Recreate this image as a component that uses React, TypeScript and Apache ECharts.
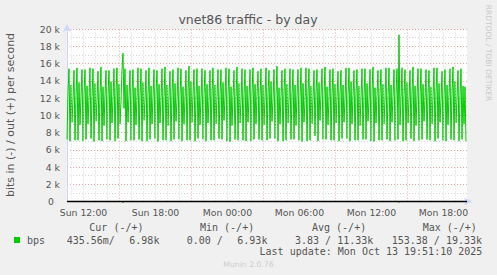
import React, { useEffect, useRef } from 'react';
import * as echarts from 'echarts';

// ---- texts ----
const chartTitle = 'vnet86 traffic - by day';
const yAxisTitle = 'bits in (-) / out (+) per second';
const sideText = 'RRDTOOL / TOBI OETIKER';
const footerText = 'Munin 2.0.76';
const lastUpdate = 'Last update: Mon Oct 13 19:51:10 2025';
const seriesName = 'bps';
const statHeaders = ['Cur (-/+)', 'Min (-/+)', 'Avg (-/+)', 'Max (-/+)'];
const statCells = ['435.56m/', '6.98k', '0.00 /', '6.93k', '3.83 / 11.33k', '153.38 / 19.33k'];

// ---- time axis (minutes since Sun 00:00) ----
const startMinute = 637.5; // Sun 10:37:30
const stepMinutes = 5;
const sampleCount = 400;
const xLabelValues = [720, 1080, 1440, 1800, 2160, 2520];
const xLabelTexts = ['Sun 12:00', 'Sun 18:00', 'Mon 00:00', 'Mon 06:00', 'Mon 12:00', 'Mon 18:00'];
const majorGridValues = [900, 1260, 1620, 1980, 2340];
const minorGridFirst = 660;
const minorGridStep = 60;

// ---- y axis (k bits/s) ----
const yMin = 0;
const yMax = 20;
const yStep = 1;

// ---- out (+) traffic, k bits per second, one value per 5 minutes ----
const outValues = [
  7.2, 12.6, 15.4, 7.0, 13.5, 9.2, 11.9, 15.2,
  7.1, 12.3, 15.5, 7.1, 13.8, 8.9, 12.2, 15.3,
  7.0, 12.7, 15.3, 7.2, 13.4, 9.0, 12.1, 15.5,
  7.3, 12.2, 15.4, 6.95, 13.7, 9.3, 11.8, 15.1,
  7.1, 12.5, 15.6, 7.0, 13.3, 8.8, 12.4, 15.2,
  7.2, 12.4, 15.2, 7.1, 13.9, 9.1, 12.0, 15.4,
  7.0, 12.8, 15.5, 7.3, 13.6, 9.0, 11.7, 15.3,
  17.2, 10.8, 15.4, 7.0, 13.5, 9.2, 12.3, 15.2,
  7.1, 12.6, 15.3, 7.1, 13.2, 8.9, 12.1, 15.5,
  7.2, 12.3, 15.4, 7.0, 13.8, 9.4, 11.9, 15.2,
  7.0, 12.5, 15.5, 7.2, 13.4, 9.0, 12.2, 15.3,
  7.3, 12.7, 15.2, 6.95, 13.6, 9.1, 12.0, 15.4,
  7.1, 12.2, 15.6, 7.1, 13.5, 8.8, 12.3, 15.1,
  7.0, 12.6, 15.3, 7.2, 13.7, 9.3, 11.8, 15.5,
  7.2, 12.4, 15.4, 7.0, 13.3, 9.0, 12.1, 15.2,
  7.1, 12.8, 15.7, 7.1, 13.9, 9.2, 12.4, 15.3,
  7.0, 12.3, 15.4, 7.3, 13.4, 8.9, 12.0, 15.4,
  7.2, 12.5, 15.2, 7.0, 13.6, 9.1, 11.9, 15.2,
  7.1, 12.7, 15.5, 7.1, 13.5, 9.0, 12.2, 15.3,
  7.3, 12.4, 15.3, 7.2, 13.8, 9.4, 12.1, 15.5,
  7.0, 12.6, 15.4, 6.93, 13.3, 8.8, 12.3, 15.2,
  7.2, 12.2, 15.6, 7.1, 13.7, 9.1, 11.8, 15.4,
  7.1, 12.5, 15.3, 7.0, 13.4, 9.2, 12.0, 15.3,
  7.0, 12.8, 15.5, 7.2, 13.6, 9.0, 12.4, 15.1,
  7.2, 12.3, 15.4, 7.1, 13.5, 8.9, 12.1, 15.5,
  7.1, 12.6, 15.2, 7.3, 13.9, 9.3, 11.9, 15.3,
  7.3, 12.4, 15.7, 7.0, 13.2, 9.0, 12.2, 15.2,
  7.0, 12.7, 15.4, 7.1, 13.6, 9.1, 12.0, 15.4,
  7.2, 12.5, 15.3, 7.2, 13.5, 8.8, 12.3, 15.3,
  7.1, 12.2, 15.5, 6.95, 13.7, 9.2, 11.8, 15.5,
  7.0, 12.6, 15.4, 7.1, 13.4, 9.0, 12.1, 15.2,
  7.6, 12.8, 15.3, 7.0, 13.8, 9.4, 12.4, 15.4,
  7.2, 12.3, 15.6, 7.2, 13.3, 8.9, 12.0, 15.3,
  7.1, 12.5, 15.4, 7.1, 13.6, 9.1, 12.2, 15.1,
  7.0, 12.7, 15.2, 7.3, 13.5, 9.2, 11.9, 15.5,
  7.3, 12.4, 15.5, 7.0, 13.9, 9.0, 12.3, 15.2,
  7.1, 12.6, 15.3, 7.1, 13.4, 8.8, 12.1, 15.4,
  7.2, 12.2, 15.4, 7.2, 13.7, 9.3, 11.8, 15.3,
  7.0, 12.8, 15.6, 6.95, 13.2, 9.1, 12.4, 15.2,
  7.1, 12.5, 15.3, 7.1, 13.6, 9.0, 12.0, 15.5,
  7.2, 12.3, 15.5, 7.0, 13.5, 9.2, 12.2, 15.3,
  7.1, 12.6, 15.4, 7.2, 19.33, 8.9, 12.1, 15.5,
  7.0, 12.4, 15.3, 7.1, 13.8, 9.1, 11.9, 15.2,
  7.3, 12.7, 15.6, 7.0, 13.4, 8.8, 12.3, 15.4,
  7.1, 12.2, 15.4, 7.2, 13.6, 9.3, 12.0, 15.3,
  7.2, 12.5, 15.2, 7.1, 13.3, 9.0, 12.2, 15.5,
  7.0, 12.8, 15.5, 7.3, 13.7, 9.2, 11.8, 15.1,
  7.1, 12.4, 15.3, 7.0, 13.5, 8.9, 12.4, 15.4,
  7.2, 12.6, 15.6, 7.1, 13.9, 9.1, 12.1, 15.2,
  7.0, 12.3, 15.4, 7.2, 13.4, 9.0, 13.3, 6.98,
];

// ---- in (-) traffic: essentially zero, with two small bursts (sample index, k bits/s) ----
const inBursts: [number, number][] = [
  [56, -0.153],
  [332, -0.12],
];

const GREEN = '#00cc00';
const TEXT = '#555555';
const AXIS = '#cfd6f8';
const MAJOR = '#e8a8a8';
const MINOR = '#d6d6d6';

export default function App() {
  const ref = useRef<HTMLDivElement>(null);

  useEffect(() => {
    if (!ref.current) return;
    const chart = echarts.init(ref.current, undefined, { renderer: 'svg' });

    const outData = outValues.map((v, i) => [startMinute + i * stepMinutes, v]);
    const inMap = new Map(inBursts);
    const inData = outValues.map((_, i) => [startMinute + i * stepMinutes, inMap.get(i) ?? 0]);
    const endMinute = startMinute + sampleCount * stepMinutes;

    const minorGrid: number[] = [];
    for (let m = minorGridFirst; m < endMinute; m += minorGridStep) minorGrid.push(m);
    const majorSet = new Set(majorGridValues);

    const gridLines = minorGrid.map((m) => ({
      xAxis: m,
      lineStyle: { color: majorSet.has(m) ? MAJOR : MINOR, type: [1, 2], width: 1 },
    }));

    const mono = "'DejaVu Sans Mono', monospace";
    const sans = "'DejaVu Sans', sans-serif";
    const headerX = [89.3, 200, 312, 422.7];
    const cellX = [66.7, 129.3, 186.7, 237.3, 295, 391.7];

    const graphic: any[] = [
      {
        type: 'text', x: 248, y: 19,
        style: { text: chartTitle, fill: TEXT, font: `12.5px ${sans}`, align: 'center', verticalAlign: 'middle' },
      },
      {
        type: 'text', x: 10.5, y: 115, rotation: Math.PI / 2,
        style: { text: yAxisTitle, fill: TEXT, font: `11px ${sans}`, align: 'center', verticalAlign: 'middle' },
      },
      {
        type: 'text', x: 488, y: 53, rotation: -Math.PI / 2,
        style: { text: sideText, fill: '#c8c8c8', font: `7.5px ${sans}`, align: 'center', verticalAlign: 'middle' },
      },
      ...statHeaders.map((t, i) => ({
        type: 'text', x: headerX[i], y: 227.7,
        style: { text: t, fill: TEXT, font: `10px ${mono}`, align: 'left', verticalAlign: 'middle' },
      })),
      { type: 'rect', shape: { x: 14, y: 237, width: 6, height: 6 }, style: { fill: GREEN } },
      {
        type: 'text', x: 27, y: 240,
        style: { text: seriesName, fill: TEXT, font: `10px ${mono}`, align: 'left', verticalAlign: 'middle' },
      },
      ...statCells.map((t, i) => ({
        type: 'text', x: cellX[i], y: 240,
        style: { text: t, fill: TEXT, font: `10px ${mono}`, align: 'left', verticalAlign: 'middle' },
      })),
      {
        type: 'text', x: 482.3, y: 251,
        style: { text: lastUpdate, fill: TEXT, font: `10px ${mono}`, align: 'right', verticalAlign: 'middle' },
      },
      {
        type: 'text', x: 223.3, y: 264.3,
        style: { text: footerText, fill: '#cccccc', font: `7.7px ${sans}`, align: 'left', verticalAlign: 'middle' },
      },
    ];

    chart.setOption({
      animation: false,
      backgroundColor: '#f0f0f0',
      grid: {
        left: 67, top: 29, width: 400, height: 172.5,
        show: true, backgroundColor: '#ffffff', borderWidth: 0,
      },
      xAxis: {
        type: 'value',
        min: startMinute,
        max: endMinute,
        axisLine: {
          show: true, onZero: false,
          lineStyle: { color: AXIS, width: 1 },
          symbol: ['none', 'arrow'], symbolSize: [6, 8], symbolOffset: [0, 5],
        },
        axisTick: { show: false },
        axisLabel: {
          customValues: xLabelValues,
          formatter: (v: number) => xLabelTexts[xLabelValues.indexOf(v)] ?? '',
          color: TEXT, fontSize: 9.3, fontFamily: sans, margin: 6,
        },
        splitLine: { show: false },
      },
      yAxis: {
        type: 'value',
        min: yMin, max: yMax, interval: yStep,
        axisLine: {
          show: true,
          lineStyle: { color: AXIS, width: 1 },
          symbol: ['none', 'arrow'], symbolSize: [6, 8], symbolOffset: [0, 5],
        },
        axisTick: { show: false },
        axisLabel: {
          formatter: (v: number) => (v % 2 !== 0 ? '' : v === 0 ? '{z|0}' : `${v} k`),
          color: TEXT, fontSize: 9.3, fontFamily: sans, margin: 7,
          rich: { z: { padding: [0, 6, 0, 0], color: TEXT, fontSize: 9.3, fontFamily: sans } },
        },
        splitLine: { show: true, lineStyle: { color: [MAJOR, MINOR], type: [1, 2], width: 1 } },
      },
      graphic,
      series: [
        {
          name: 'in',
          type: 'line',
          data: inData,
          showSymbol: false,
          clip: false,
          lineStyle: { color: GREEN, width: 1 },
          markLine: {
            silent: true, symbol: ['none', 'none'], label: { show: false },
            data: gridLines,
          },
          z: 1,
        },
        {
          name: 'out',
          type: 'line',
          data: outData,
          showSymbol: false,
          sampling: undefined,
          lineStyle: { color: GREEN, width: 1 },
          markLine: {
            silent: true, symbol: ['none', 'none'], label: { show: false },
            data: [{ yAxis: 0, lineStyle: { color: '#000000', width: 1.4, type: 'solid' } }],
          },
          z: 2,
        },
      ],
    });

    return () => chart.dispose();
  }, []);

  return (
    <div
      ref={ref}
      style={{ position: 'absolute', left: 0, top: 0, width: 497, height: 275 }}
    />
  );
}
